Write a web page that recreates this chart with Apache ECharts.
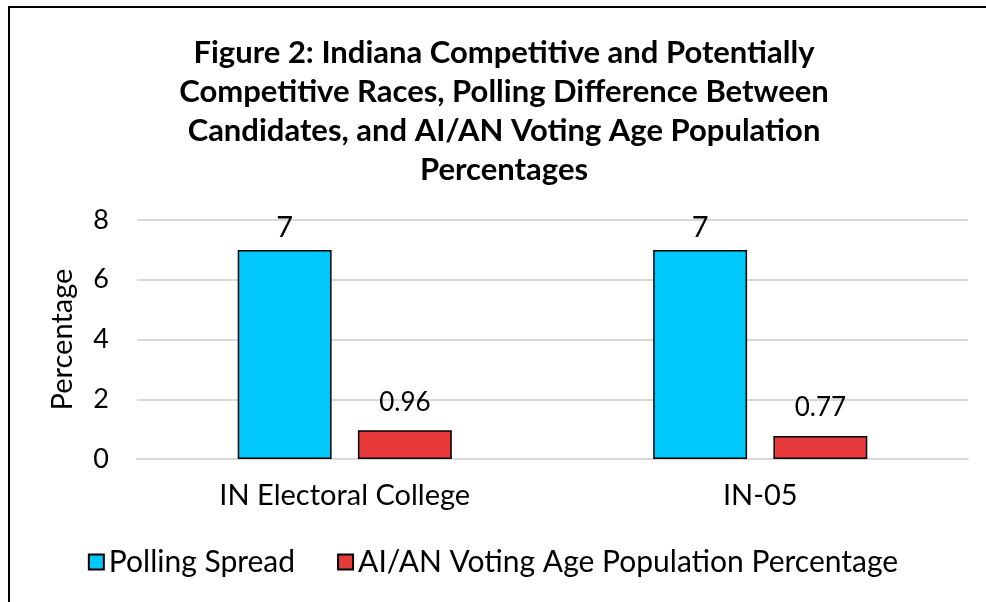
<!DOCTYPE html>
<html>
<head>
<meta charset="utf-8">
<script src="https://cdn.jsdelivr.net/npm/echarts@6/dist/echarts.min.js"></script>
<style>
html, body { margin: 0; padding: 0; background: #fff; }
#frame {
    position: absolute; left: 8px; top: 6px; right: 0; bottom: 0;
    border-top: 2px solid #000; border-left: 2px solid #000;
}
#main { position: absolute; left: 0; top: 0; width: 986px; height: 602px; }
</style>
</head>
<body>
<div id="frame"></div>
<div id="main"></div>
<script>
var categories = ['IN Electoral College', 'IN-05'];
var pollingSpread = [7, 7];
var aianShare = [0.96, 0.77];
var seriesNames = ['Polling Spread', 'AI/AN Voting Age Population Percentage'];
var titleText = 'Figure 2: Indiana Competitive and Potentially\nCompetitive Races, Polling Difference Between\nCandidates, and AI/AN Voting Age Population\nPercentages';

var font = 'Lato, "Open Sans", sans-serif';
var chart = echarts.init(document.getElementById('main'));

var option = {
    backgroundColor: 'transparent',
    animation: false,
    title: {
        text: titleText,
        left: 499,
        textAlign: 'center',
        top: 28,
        textStyle: {
            fontFamily: font, fontWeight: 'bold', fontSize: 31,
            color: '#000', lineHeight: 39
        }
    },
    legend: {
        data: seriesNames,
        bottom: 20,
        left: 'center',
        itemWidth: 15,
        itemHeight: 15,
        itemGap: 42,
        icon: 'rect',
        textStyle: { fontFamily: font, fontSize: 30, color: '#000' }
    },
    grid: { left: 137, right: 18, top: 220, bottom: 143 },
    xAxis: {
        type: 'category',
        data: categories,
        axisTick: { show: false },
        axisLine: { lineStyle: { color: '#d9d9d9', width: 2 } },
        axisLabel: { fontFamily: font, fontSize: 29, color: '#000', margin: 22 }
    },
    yAxis: {
        type: 'value',
        min: 0, max: 8, interval: 2,
        name: 'Percentage',
        nameLocation: 'middle',
        nameGap: 60,
        nameTextStyle: { fontFamily: font, fontSize: 29, color: '#000' },
        axisLabel: { fontFamily: font, fontSize: 27, color: '#000', margin: 28 },
        splitLine: { lineStyle: { color: '#d9d9d9', width: 2 } }
    },
    series: [
        {
            name: seriesNames[0],
            type: 'bar',
            data: pollingSpread,
            barWidth: '22.6%',
            barGap: '28%',
            itemStyle: { color: '#00c8fa', borderColor: '#000', borderWidth: 1.5 },
            label: {
                show: true, position: 'top', distance: 8,
                fontFamily: font, fontSize: 29, color: '#000'
            }
        },
        {
            name: seriesNames[1],
            type: 'bar',
            data: aianShare,
            barWidth: '22.6%',
            itemStyle: { color: '#e83a3a', borderColor: '#000', borderWidth: 1.5 },
            label: {
                show: true, position: 'top', distance: 15,
                fontFamily: font, fontSize: 26, color: '#000'
            }
        }
    ]
};

chart.setOption(option);
window.onresize = function () { chart.resize(); };
</script>
</body>
</html>
